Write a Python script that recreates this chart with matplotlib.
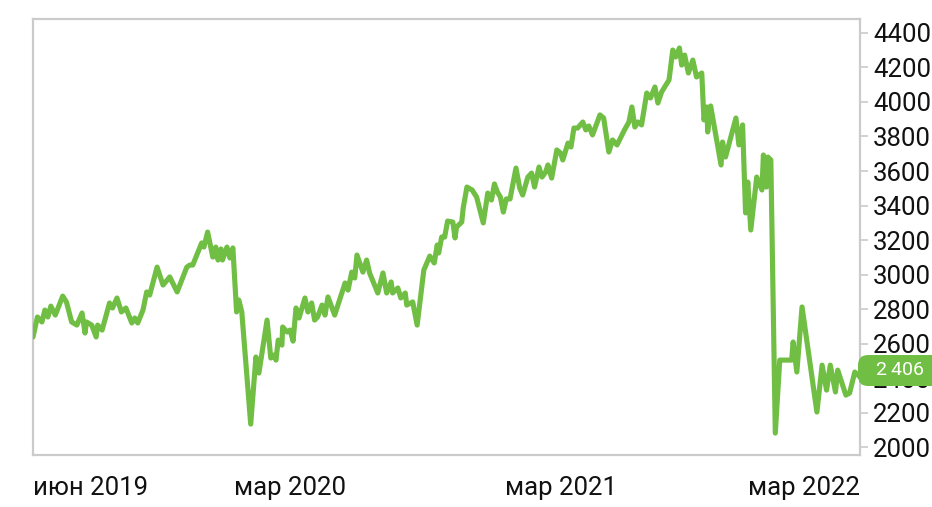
import matplotlib
matplotlib.use("Agg")
import matplotlib.pyplot as plt
import matplotlib.dates as mdates
from matplotlib.patches import FancyBboxPatch
from matplotlib.transforms import IdentityTransform, ScaledTranslation
import pandas as pd

dates = [
    "2019-06-01", "2019-06-07", "2019-06-13", "2019-06-17", "2019-06-21", "2019-06-25",
    "2019-07-01", "2019-07-11", "2019-07-16", "2019-07-23", "2019-07-30", "2019-08-06",
    "2019-08-10", "2019-08-12", "2019-08-19", "2019-08-25", "2019-08-27", "2019-09-02",
    "2019-09-12", "2019-09-16", "2019-09-22", "2019-09-28", "2019-10-04", "2019-10-12",
    "2019-10-16", "2019-10-20", "2019-10-27", "2019-11-01", "2019-11-05", "2019-11-15",
    "2019-11-23", "2019-12-02", "2019-12-12", "2019-12-25", "2019-12-29", "2020-01-02",
    "2020-01-14", "2020-01-17", "2020-01-22", "2020-01-29", "2020-02-02", "2020-02-05",
    "2020-02-09", "2020-02-11", "2020-02-17", "2020-02-21", "2020-02-25", "2020-03-01",
    "2020-03-04", "2020-03-08", "2020-03-20", "2020-03-27", "2020-03-31", "2020-04-11",
    "2020-04-16", "2020-04-20", "2020-04-23", "2020-04-26", "2020-05-01", "2020-05-02",
    "2020-05-08", "2020-05-12", "2020-05-16", "2020-05-20", "2020-05-24", "2020-06-01",
    "2020-06-05", "2020-06-10", "2020-06-14", "2020-06-18", "2020-06-24", "2020-06-28",
    "2020-07-02", "2020-07-11", "2020-07-25", "2020-07-29", "2020-08-03", "2020-08-07",
    "2020-08-10", "2020-08-18", "2020-08-23", "2020-08-27", "2020-09-07", "2020-09-14",
    "2020-09-19", "2020-09-25", "2020-09-27", "2020-10-04", "2020-10-08", "2020-10-14",
    "2020-10-16", "2020-10-24", "2020-10-30", "2020-11-08", "2020-11-16", "2020-11-22",
    "2020-11-26", "2020-11-28", "2020-12-02", "2020-12-06", "2020-12-10", "2020-12-17",
    "2020-12-20", "2020-12-22", "2020-12-29", "2020-12-31", "2021-01-05", "2021-01-12",
    "2021-01-18", "2021-01-27", "2021-02-02", "2021-02-07", "2021-02-11", "2021-02-15",
    "2021-02-19", "2021-02-23", "2021-02-27", "2021-03-04", "2021-03-12", "2021-03-17",
    "2021-03-21", "2021-03-28", "2021-04-02", "2021-04-06", "2021-04-12", "2021-04-16",
    "2021-04-21", "2021-04-24", "2021-04-29", "2021-05-06", "2021-05-11", "2021-05-14",
    "2021-05-21", "2021-05-25", "2021-05-29", "2021-06-03", "2021-06-10", "2021-06-14",
    "2021-06-18", "2021-06-23", "2021-07-03", "2021-07-08", "2021-07-15", "2021-07-20",
    "2021-07-26", "2021-08-05", "2021-08-11", "2021-08-15", "2021-08-19", "2021-08-23",
    "2021-08-28", "2021-09-04", "2021-09-09", "2021-09-15", "2021-09-19", "2021-09-24",
    "2021-10-04", "2021-10-09", "2021-10-13", "2021-10-18", "2021-10-21", "2021-10-25",
    "2021-10-30", "2021-11-05", "2021-11-10", "2021-11-17", "2021-11-20", "2021-11-24",
    "2021-11-25", "2021-11-29", "2021-12-13", "2021-12-15", "2021-12-19", "2022-01-02",
    "2022-01-06", "2022-01-11", "2022-01-15", "2022-01-18", "2022-01-22", "2022-01-30",
    "2022-02-06", "2022-02-08", "2022-02-12", "2022-02-14", "2022-02-18", "2022-02-24",
    "2022-03-02", "2022-03-18", "2022-03-20", "2022-03-25", "2022-04-01", "2022-04-21",
    "2022-04-28", "2022-05-04", "2022-05-09", "2022-05-16", "2022-05-19", "2022-05-30",
    "2022-06-04", "2022-06-11", "2022-06-18",
]

values = [
    2638, 2754, 2725, 2794, 2754, 2817,
    2765, 2875, 2841, 2725, 2707, 2777,
    2661, 2725, 2707, 2638, 2707, 2678,
    2835, 2806, 2864, 2783, 2806, 2719,
    2748, 2719, 2794, 2899, 2881, 3043,
    2939, 2986, 2899, 3043, 3055, 3055,
    3183, 3159, 3246, 3101, 3159, 3084,
    3148, 3084, 3159, 3096, 3154, 2783,
    2852, 2783, 2133, 2522, 2429, 2736,
    2516, 2533, 2504, 2620, 2591, 2696,
    2667, 2678, 2614, 2806, 2748, 2864,
    2783, 2835, 2736, 2754, 2823, 2765,
    2870, 2765, 2951, 2910, 3014, 2980,
    3113, 3014, 3084, 3009, 2893, 3009,
    2893, 2957, 2893, 2922, 2864, 2893,
    2823, 2841, 2707, 3026, 3107, 3067,
    3171, 3125, 3217, 3217, 3310, 3304,
    3212, 3275, 3304, 3386, 3507, 3490,
    3449, 3299, 3472, 3432, 3525, 3478,
    3449, 3362, 3438, 3438, 3617, 3501,
    3461, 3565, 3588, 3507, 3623, 3565,
    3594, 3635, 3559, 3722, 3704, 3664,
    3762, 3739, 3849, 3849, 3884, 3838,
    3861, 3809, 3925, 3907, 3710, 3780,
    3751, 3838, 3884, 3971, 3855, 3884,
    3867, 4052, 4023, 4087, 3994, 4058,
    4128, 4301, 4261, 4313, 4214, 4272,
    4168, 4243, 4145, 4168, 3896, 3971,
    3826, 3977, 3635, 3768, 3681, 3907,
    3751, 3867, 3357, 3536, 3258, 3565,
    3490, 3693, 3507, 3681, 3664, 2081,
    2504, 2504, 2609, 2435, 2812, 2203,
    2475, 2330, 2475, 2319, 2446, 2301,
    2313, 2435, 2406,
]

y_ticks = [2000, 2200, 2400, 2600, 2800, 3000, 3200, 3400, 3600, 3800, 4000, 4200, 4400]
x_tick_dates = ["2019-06-01", "2020-03-01", "2021-03-01", "2022-06-18"]
x_tick_labels = ["июн 2019", "мар 2020", "мар 2021", "мар 2022"]
last_label = "2\u2009406"

GREEN = "#70bf44"
FRAME = "#cbcbcb"

plt.rcParams["font.family"] = ["Roboto", "DejaVu Sans"]

x = pd.to_datetime(dates)
fig = plt.figure(figsize=(9.32, 5.07), dpi=100)
ax = fig.add_axes([33 / 932, 1 - 455 / 507, (860 - 33) / 932, (455 - 19) / 507])

ax.plot(x, values, color=GREEN, lw=3.7, solid_joinstyle="round", solid_capstyle="round", zorder=3)

ax.set_xlim(x[0], x[-1])
ax.set_ylim(1954, 4481)

for s in ax.spines.values():
    s.set_color(FRAME)
    s.set_linewidth(1.6)

ax.yaxis.tick_right()
ax.set_yticks(y_ticks)
ax.set_yticklabels([str(v) for v in y_ticks])
ax.tick_params(axis="y", which="both", direction="out", length=6, width=1.2,
               color=FRAME, pad=3.5, labelsize=18.5, labelcolor="#111111")

xt = pd.to_datetime(x_tick_dates)
ax.set_xticks(xt)
ax.set_xticklabels(x_tick_labels)
ax.tick_params(axis="x", length=0, pad=15, labelsize=18.5, labelcolor="#111111")
xlabels = ax.get_xticklabels()
shift = ScaledTranslation(-3 / 100, 0, fig.dpi_scale_trans)
for i, lab in enumerate(xlabels):
    if i == len(xlabels) - 1:
        lab.set_ha("right")
    else:
        lab.set_ha("left")
        if i > 0:
            lab.set_transform(lab.get_transform() + shift)

# last value badge
fig.canvas.draw()
px, py = ax.transData.transform((mdates.date2num(x[-1]), values[-1]))
badge = FancyBboxPatch((px - 2, py - 9), 95, 31,
                       boxstyle="round,pad=0,rounding_size=10",
                       transform=IdentityTransform(), fc=GREEN, ec="none",
                       clip_on=False, zorder=5)
fig.add_artist(badge)
fig.text(px + 40, py + 7.5, last_label, transform=IdentityTransform(),
         ha="center", va="center", color="white", fontsize=14, zorder=6)

fig.savefig("out.png", dpi=100)
